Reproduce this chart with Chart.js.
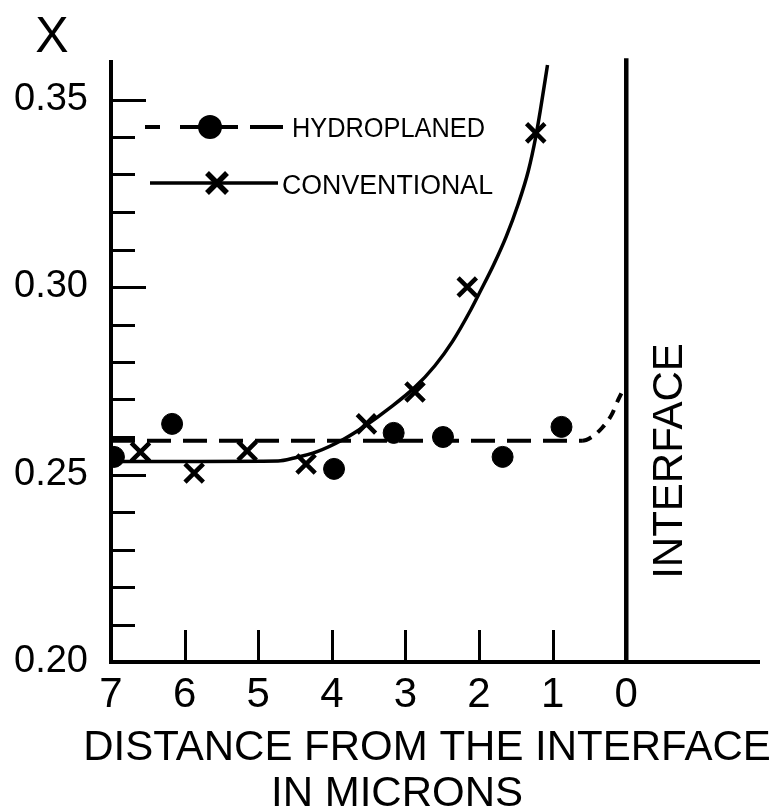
<!DOCTYPE html>
<html>
<head>
<meta charset="utf-8">
<title>X vs distance from the interface</title>
<script src="https://cdn.jsdelivr.net/npm/chart.js@4.4.1/dist/chart.umd.min.js"></script>
<style>
  html, body { margin: 0; padding: 0; background: #fff; }
  canvas { display: block; }
</style>
</head>
<body>
<canvas id="chart" width="777" height="812"></canvas>
<script>
const hydroX = [6.96, 6.17, 3.97, 3.16, 2.49, 1.68, 0.88];
const hydroY = [0.2547, 0.2635, 0.2515, 0.2611, 0.2600, 0.2547, 0.2627];
const convX = [6.60, 5.87, 5.15, 4.35, 3.53, 2.87, 2.16, 1.23];
const convY = [0.2560, 0.2504, 0.2563, 0.2528, 0.2635, 0.2720, 0.3000, 0.3411];

// hand drawn curves, traced point by point
const hydroFitX = [7.0, 5.0, 3.0, 1.0, 0.6, 0.47, 0.33, 0.2, 0.11, 0.03];
const hydroFitY = [0.2590, 0.2590, 0.2590, 0.2590, 0.2590, 0.2600, 0.2624, 0.2659, 0.2699, 0.2731];
const convFitX = [7.0, 5.8, 4.73, 4.51, 4.2, 3.84, 3.53, 3.23, 2.87, 2.6, 2.36, 2.11, 2.0, 1.8, 1.63, 1.47, 1.33, 1.23, 1.16, 1.07];
const convFitY = [0.2535, 0.2535, 0.2536, 0.2544, 0.2561, 0.2594, 0.2632, 0.2675, 0.2733, 0.2790, 0.2855, 0.2940, 0.2982, 0.3060, 0.3135, 0.3220, 0.3310, 0.3400, 0.3480, 0.3592];

// the interface (x = 0)
const interfaceX = [0, 0];
const interfaceY = [0.20, 0.361];

// axis ticks
const xTicks = [7, 6, 5, 4, 3, 2, 1, 0];
const yTicks = [0.20, 0.21, 0.22, 0.23, 0.24, 0.25, 0.26, 0.27, 0.28, 0.29, 0.30, 0.31, 0.32, 0.33, 0.34, 0.35];
const yLabelled = [0.20, 0.25, 0.30, 0.35];

const ink = "#000";
const fontFamily = '"Liberation Sans", Arial, Helvetica, sans-serif';

function toPoints(xs, ys) {
  return xs.map((x, i) => ({ x: x, y: ys[i] }));
}

function isLabelled(v) {
  return yLabelled.some(l => Math.abs(l - v) < 1e-6);
}

// tick marks point into the plot, longer ones at the labelled values
const inwardTicks = {
  id: "inwardTicks",
  afterDraw(chart) {
    const { ctx, chartArea, scales } = chart;
    ctx.save();
    ctx.strokeStyle = ink;
    ctx.lineWidth = 3;
    yTicks.forEach(v => {
      const py = Math.round(scales.y.getPixelForValue(v)) + 0.5;
      const len = isLabelled(v) ? 35 : 24;
      ctx.beginPath();
      ctx.moveTo(chartArea.left, py);
      ctx.lineTo(chartArea.left + len, py);
      ctx.stroke();
    });
    xTicks.forEach(v => {
      const px = Math.round(scales.x.getPixelForValue(v)) + 0.5;
      ctx.beginPath();
      ctx.moveTo(px, chartArea.bottom);
      ctx.lineTo(px, chartArea.bottom - 32);
      ctx.stroke();
    });
    ctx.restore();
  }
};

// titles, the INTERFACE label and the key
const labels = {
  id: "labels",
  afterDraw(chart) {
    const ctx = chart.ctx;
    ctx.save();
    ctx.fillStyle = ink;
    ctx.strokeStyle = ink;
    ctx.textBaseline = "alphabetic";

    ctx.font = "50px " + fontFamily;
    ctx.textAlign = "center";
    ctx.fillText("X", 52, 52);

    ctx.font = "42px " + fontFamily;
    ctx.fillText("DISTANCE FROM THE INTERFACE", 427, 760);
    ctx.fillText("IN MICRONS", 397, 806);

    ctx.save();
    ctx.translate(682, 461);
    ctx.rotate(-Math.PI / 2);
    ctx.fillText("INTERFACE", 0, 0);
    ctx.restore();

    // key: hydroplaned
    ctx.lineWidth = 4;
    [[145, 160], [180, 200], [200, 238], [250, 283]].forEach(s => {
      ctx.beginPath();
      ctx.moveTo(s[0], 127);
      ctx.lineTo(s[1], 127);
      ctx.stroke();
    });
    ctx.beginPath();
    ctx.arc(210, 127, 12, 0, Math.PI * 2);
    ctx.fill();

    // key: conventional
    ctx.lineWidth = 3.5;
    ctx.beginPath();
    ctx.moveTo(150, 183);
    ctx.lineTo(278, 183);
    ctx.stroke();
    ctx.lineWidth = 5.5;
    ctx.beginPath();
    ctx.moveTo(207, 173); ctx.lineTo(227, 193);
    ctx.moveTo(227, 173); ctx.lineTo(207, 193);
    ctx.stroke();

    ctx.font = "27px " + fontFamily;
    ctx.textAlign = "left";
    ctx.fillText("HYDROPLANED", 292, 137, 193);
    ctx.fillText("CONVENTIONAL", 282, 194, 211);
    ctx.restore();
  }
};

new Chart(document.getElementById("chart"), {
  type: "scatter",
  data: {
    datasets: [
      {
        label: "HYDROPLANED",
        data: toPoints(hydroX, hydroY),
        pointStyle: "circle",
        pointRadius: 10.5,
        pointBackgroundColor: ink,
        pointBorderColor: ink,
        pointBorderWidth: 1
      },
      {
        label: "CONVENTIONAL",
        data: toPoints(convX, convY),
        pointStyle: "crossRot",
        pointRadius: 13,
        pointBorderColor: ink,
        pointBorderWidth: 4.5
      },
      {
        label: "hydroplaned fit",
        data: toPoints(hydroFitX, hydroFitY),
        showLine: true,
        pointRadius: 0,
        borderColor: ink,
        borderWidth: 4,
        borderDash: [24, 12],
        cubicInterpolationMode: "monotone",
        segment: {
          borderDash: c => (c.p0.parsed.x <= 0.6 ? [10, 8] : undefined)
        },
        clip: false
      },
      {
        label: "conventional fit",
        data: toPoints(convFitX, convFitY),
        showLine: true,
        pointRadius: 0,
        borderColor: ink,
        borderWidth: 3.5,
        cubicInterpolationMode: "monotone",
        clip: false
      },
      {
        label: "interface",
        data: toPoints(interfaceX, interfaceY),
        showLine: true,
        pointRadius: 0,
        borderColor: ink,
        borderWidth: 4.5,
        clip: false
      }
    ]
  },
  options: {
    responsive: false,
    animation: false,
    events: [],
    layout: { padding: { top: 62, right: 5, left: 0, bottom: 0 } },
    plugins: {
      legend: { display: false },
      tooltip: { enabled: false }
    },
    scales: {
      x: {
        type: "linear",
        reverse: true,
        min: -1.81,
        max: 7,
        afterBuildTicks: s => { s.ticks = xTicks.map(v => ({ value: v })); },
        afterFit: s => { s.height = 150; },
        grid: { display: false },
        border: { display: true, color: ink, width: 4 },
        ticks: {
          color: ink,
          autoSkip: false,
          maxRotation: 0,
          padding: 0,
          font: { family: fontFamily, size: 42 },
          callback: v => String(v)
        }
      },
      y: {
        type: "linear",
        min: 0.20,
        max: 0.36,
        afterBuildTicks: s => { s.ticks = yTicks.map(v => ({ value: v })); },
        afterFit: s => { s.width = 111; },
        grid: { display: false },
        border: { display: true, color: ink, width: 4 },
        ticks: {
          color: ink,
          autoSkip: false,
          padding: 15,
          font: { family: fontFamily, size: 38 },
          callback: v => (isLabelled(v) ? v.toFixed(2) : "")
        }
      }
    }
  },
  plugins: [inwardTicks, labels]
});
</script>
</body>
</html>
